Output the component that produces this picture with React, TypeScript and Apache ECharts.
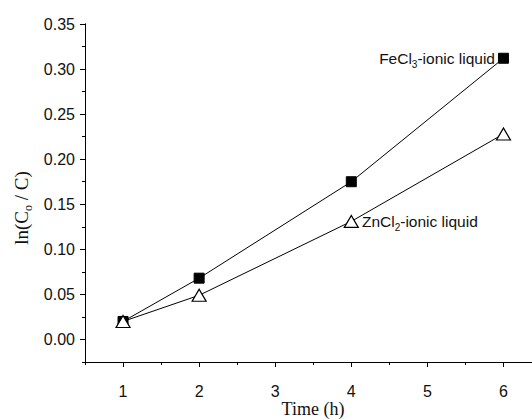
import React, { useEffect, useRef } from "react";
import * as echarts from "echarts";

const timeH = [1, 2, 4, 6];
const feValues = [0.02, 0.068, 0.175, 0.312];
const znValues = [0.02, 0.049, 0.131, 0.228];
const xMajorTicks = [1, 2, 3, 4, 5, 6];
const xMinorTicks = [0.5, 1.5, 2.5, 3.5, 4.5, 5.5];
const yMajorTicks = [0, 0.05, 0.1, 0.15, 0.2, 0.25, 0.3, 0.35];
const yMinorTicks = [-0.025, 0.025, 0.075, 0.125, 0.175, 0.225, 0.275, 0.325];
const feLabel = "{n|FeCl}{s|3}{n|-ionic liquid}";
const znLabel = "{n|ZnCl}{s|2}{n|-ionic liquid}";
const feLabelIndex = 3;
const znLabelIndex = 2;

const sans = "Liberation Sans, Arial, sans-serif";
const serif = "Liberation Serif, Times New Roman, serif";

const labelRich = {
  n: { fontSize: 15.5, fontFamily: sans, color: "#111", lineHeight: 22, verticalAlign: "middle" },
  s: { fontSize: 10, fontFamily: sans, color: "#111", lineHeight: 22, verticalAlign: "bottom" },
};

export default function App() {
  const ref = useRef<HTMLDivElement>(null);
  useEffect(() => {
    if (!ref.current) return;
    const chart = echarts.init(ref.current, null, { renderer: "svg" });
    const mkData = (vals: number[], idx: number, text: string, pos: string) =>
      timeH.map((t, i) =>
        i === idx
          ? {
              value: [t, vals[i]],
              label: {
                show: true,
                position: pos,
                distance: 3,
                formatter: text,
                rich: labelRich,
              },
            }
          : { value: [t, vals[i]] }
      );
    const xBase = {
      type: "value",
      min: 0.5,
      max: 6.375,
      axisLine: { show: true, onZero: false, lineStyle: { color: "#000", width: 1 } },
      splitLine: { show: false },
    };
    const yBase = {
      type: "value",
      min: -0.025,
      max: 0.35,
      axisLine: { show: true, onZero: false, lineStyle: { color: "#000", width: 1 } },
      splitLine: { show: false },
    };
    chart.setOption({
      animation: false,
      grid: { left: 85, right: 0, top: 24, bottom: 57, containLabel: false },
      xAxis: [
        {
          ...xBase,
          axisTick: { show: true, inside: false, length: 5, customValues: xMajorTicks, lineStyle: { color: "#000" } },
          axisLabel: {
            show: true,
            customValues: xMajorTicks,
            margin: 21,
            fontSize: 16,
            fontFamily: sans,
            color: "#111",
          },
        },
        {
          ...xBase,
          position: "bottom",
          axisTick: { show: true, inside: false, length: 3, customValues: xMinorTicks, lineStyle: { color: "#000" } },
          axisLabel: { show: false },
        },
      ],
      yAxis: [
        {
          ...yBase,
          axisTick: { show: true, inside: false, length: 5, customValues: yMajorTicks, lineStyle: { color: "#000" } },
          axisLabel: {
            show: true,
            customValues: yMajorTicks,
            margin: 10,
            fontSize: 16,
            fontFamily: sans,
            color: "#111",
            formatter: (v: number) => v.toFixed(2),
          },
        },
        {
          ...yBase,
          position: "left",
          axisTick: { show: true, inside: false, length: 3, customValues: yMinorTicks, lineStyle: { color: "#000" } },
          axisLabel: { show: false },
        },
      ],
      graphic: [
        {
          type: "text",
          x: 313,
          y: 409,
          style: {
            text: "Time (h)",
            font: `18px ${serif}`,
            fill: "#111",
            align: "center",
            verticalAlign: "middle",
          },
        },
        {
          type: "text",
          x: 21,
          y: 208,
          rotation: Math.PI / 2,
          style: {
            text: "{n|ln(C}{s|o}{n| / C)}",
            align: "center",
            verticalAlign: "middle",
            rich: {
              n: { fontSize: 19, fontFamily: serif, fill: "#111", lineHeight: 26, verticalAlign: "middle" },
              s: { fontSize: 12, fontFamily: serif, fill: "#111", lineHeight: 26, verticalAlign: "bottom" },
            },
          },
        },
      ],
      series: [
        {
          type: "line",
          name: "FeCl3-ionic liquid",
          data: mkData(feValues, feLabelIndex, feLabel, "left"),
          symbol: "rect",
          symbolSize: 10,
          lineStyle: { color: "#000", width: 1 },
          itemStyle: { color: "#000", borderColor: "#000", borderWidth: 1 },
          z: 3,
        },
        {
          type: "line",
          name: "ZnCl2-ionic liquid",
          data: mkData(znValues, znLabelIndex, znLabel, "right"),
          symbol: "triangle",
          symbolSize: [14, 12],
          lineStyle: { color: "#000", width: 1 },
          itemStyle: { color: "#fff", borderColor: "#000", borderWidth: 1.2 },
          z: 4,
        },
      ],
    });
    return () => chart.dispose();
  }, []);
  return <div ref={ref} style={{ width: 532, height: 419, position: "absolute", left: 0, top: 0 }} />;
}
